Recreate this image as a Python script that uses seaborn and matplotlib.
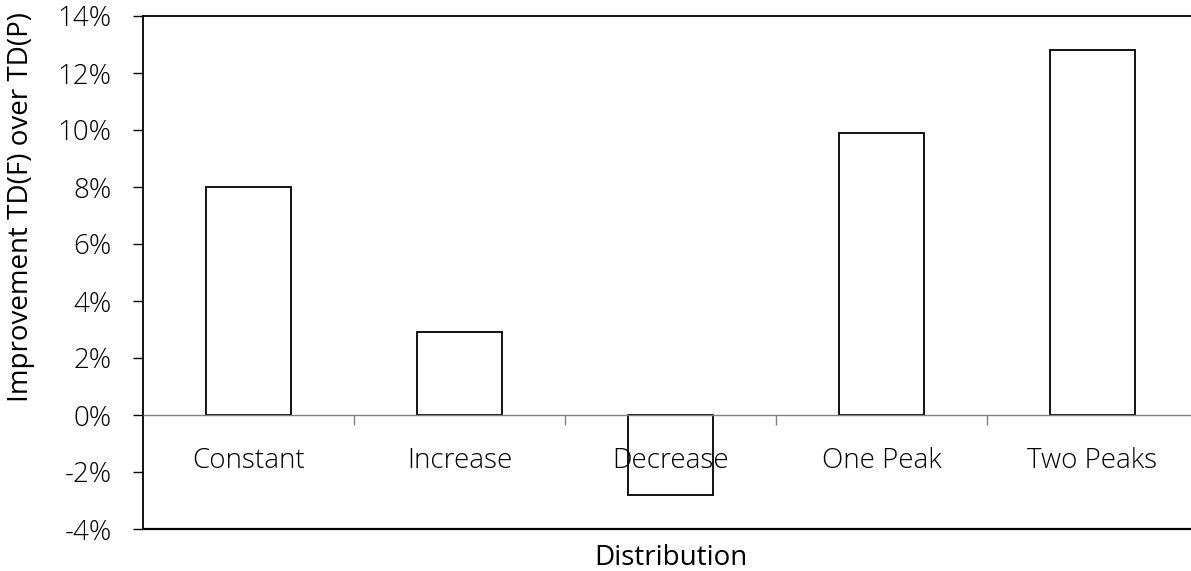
import pandas as pd
import matplotlib
matplotlib.use("Agg")
import matplotlib.pyplot as plt
import seaborn as sns

sns.set_style("white")
plt.rcParams['font.family'] = ['Open Sans', 'DejaVu Sans']
plt.rcParams['text.color'] = 'black'
plt.rcParams['xtick.color'] = 'black'
plt.rcParams['ytick.color'] = 'black'
plt.rcParams['axes.labelcolor'] = 'black'

categories = ["Constant", "Increase", "Decrease", "One Peak", "Two Peaks"]
improvement = [8.0, 2.9, -2.8, 9.9, 12.8]   # percent
y_ticks = [-4, -2, 0, 2, 4, 6, 8, 10, 12, 14]

df = pd.DataFrame({"Distribution": categories, "Improvement": improvement})

fig = plt.figure(figsize=(11.91, 5.71), dpi=100)
ax = fig.add_axes([143 / 1191, 42 / 571, 1055 / 1191, 513 / 571])

sns.barplot(data=df, x="Distribution", y="Improvement", color="white",
            edgecolor="black", linewidth=1.3, width=0.4, saturation=1, ax=ax)
ax.set_axisbelow(False)

ax.set_xlim(-0.5, len(categories) - 0.5)
ax.set_ylim(y_ticks[0], y_ticks[-1])
ax.set_yticks(y_ticks)
ax.set_yticklabels([f"{t}%" for t in y_ticks], fontsize=20, fontweight="light")
ax.tick_params(axis="y", direction="out", length=7.5, width=1, color="black",
               pad=15, left=True)

# x axis drawn at zero like the original
ax.spines["bottom"].set_position(("data", 0))
ax.spines["bottom"].set_color("#808080")
ax.spines["bottom"].set_linewidth(1)
ax.spines["right"].set_visible(False)
ax.spines["top"].set_color("black")
ax.spines["top"].set_linewidth(1.3)
ax.spines["left"].set_color("black")
ax.spines["left"].set_linewidth(1.3)
ax.axhline(y_ticks[0], color="black", lw=1.6, clip_on=False)

bounds = [i + 0.5 for i in range(len(categories) - 1)]
ax.set_xticks(bounds)
ax.set_xticklabels([""] * len(bounds))
ax.tick_params(axis="x", which="major", direction="out", length=7.5,
               width=1, color="#808080", bottom=True)
ax.set_xticks(range(len(categories)), minor=True)
ax.set_xticklabels(categories, minor=True, fontsize=20, fontweight="light")
ax.tick_params(axis="x", which="minor", length=0, pad=23)

ax.set_xlabel("Distribution", fontsize=20)
ax.xaxis.set_label_coords(0.5, -0.03)
ax.set_ylabel("Improvement TD(F) over TD(P)", fontsize=20)
ax.yaxis.set_label_coords(-0.102, 0.628)
ax.grid(False)

plt.savefig("out.png", dpi=100)
